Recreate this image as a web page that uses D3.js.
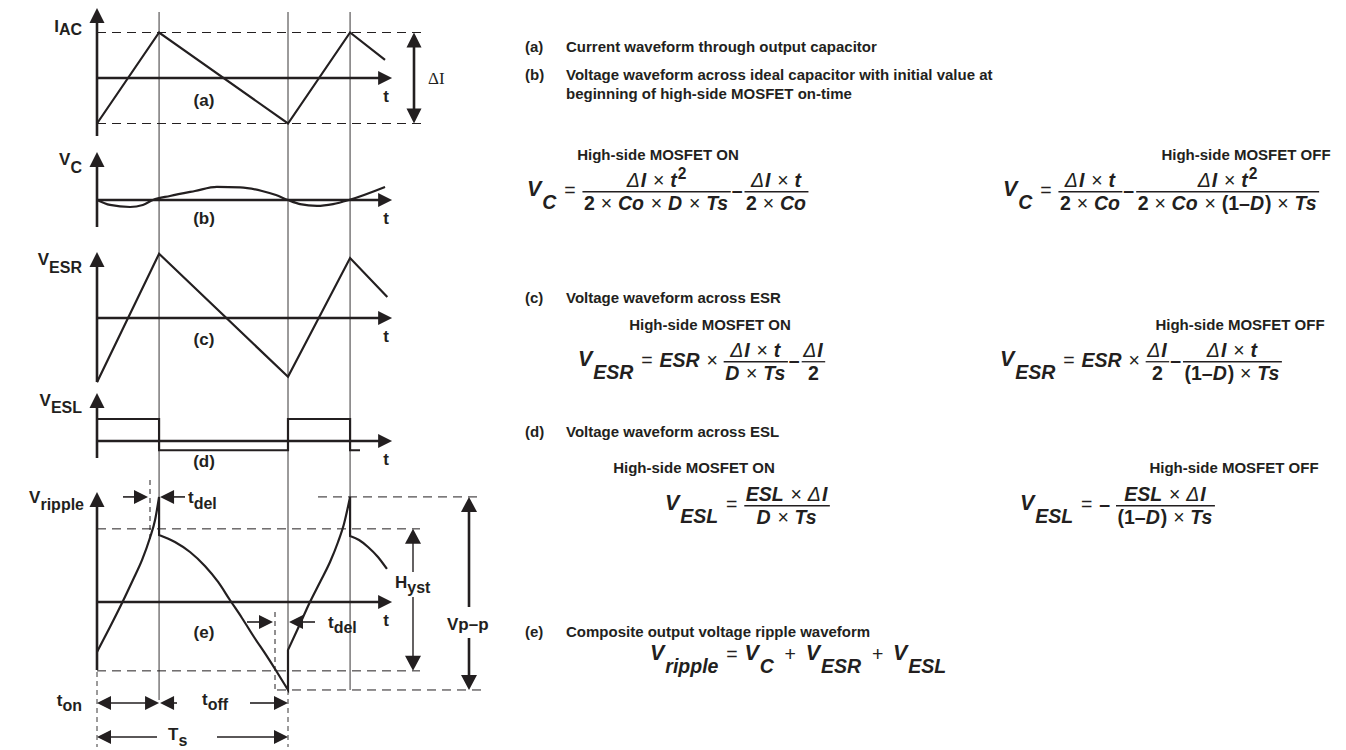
<!DOCTYPE html>
<html>
<head>
<meta charset="utf-8">
<script src="https://cdn.jsdelivr.net/npm/d3@7/dist/d3.min.js"></script>
<style>
  body { margin: 0; background: #fff; }
  svg { display: block; }
  text { font-family: "Liberation Sans", Arial, Helvetica, sans-serif; font-weight: bold; fill: #231f20; }
</style>
</head>
<body>
<svg id="chart" width="1346" height="750"></svg>
<script>
// ---------------- waveform data (time in units of the switching period Ts) ----------------
const switchTimes = [0, 0.325, 1, 1.325];          // on, off, on, off instants
const axisEndT = 1.545;                             // tip of every time axis

// (a) capacitor current, normalised to ΔI/2
const iacT = [0, 0.325, 1, 1.325, 1.508];
const iacV = [-1, 1, -1, 1, 0.40];

// (b) ideal capacitor voltage
const vcT = [0, 0.068, 0.173, 0.24, 0.293, 0.382, 0.513, 0.628, 0.749, 0.864, 0.937, 1.0, 1.063, 1.152, 1.236, 1.319, 1.508];
const vcV = [0, -0.11, -0.155, -0.11, 0, 0.09, 0.2, 0.29, 0.28, 0.2, 0.11, 0, -0.09, -0.13, -0.09, 0, 0.29];

// (c) ESR voltage
const esrT = [0, 0.325, 1, 1.325, 1.52];
const esrV = [-1.07, 1.07, -0.98, 1.0, 0.35];

// (d) ESL voltage (square wave)
const eslT = [0, 0.325, 0.325, 1, 1, 1.325, 1.325, 1.377];
const eslV = [1, 1, -0.42, -0.42, 1, 1, -0.42, -0.42];

// (e) composite ripple, one piece per switching interval
const rippleT = [
  [0, 0.068, 0.131, 0.188, 0.236, 0.277, 0.304, 0.325],
  [0.325, 0.408, 0.487, 0.565, 0.634, 0.696, 0.759, 0.822, 0.885, 0.942, 1.0],
  [1.0, 1.058, 1.115, 1.168, 1.22, 1.262, 1.293, 1.325],
  [1.325, 1.372, 1.419, 1.471, 1.518]
];
const rippleV = [
  [-0.704, -0.352, -0.014, 0.31, 0.592, 0.901, 1.155, 1.48],
  [0.944, 0.845, 0.704, 0.507, 0.282, 0.028, -0.225, -0.493, -0.746, -0.986, -1.239],
  [-0.676, -0.338, 0, 0.282, 0.563, 0.845, 1.099, 1.48],
  [0.93, 0.873, 0.775, 0.634, 0.465]
];
const hystLevels = [1.03, -0.97];      // hysteresis window
const ripplePeak = 1.48, rippleTrough = -1.239;
const tdelTimes = [0.2775, 0.932];     // comparator delay markers

// ---------------- text ----------------
const notes = [
  ['(a)', ['Current waveform through output capacitor']],
  ['(b)', ['Voltage waveform across ideal capacitor with initial value at', 'beginning of high-side MOSFET on-time']],
  ['(c)', ['Voltage waveform across ESR']],
  ['(d)', ['Voltage waveform across ESL']],
  ['(e)', ['Composite output voltage ripple waveform']]
];
const stateTitles = ['High-side MOSFET ON', 'High-side MOSFET OFF'];

// ---------------- setup ----------------
const ink = '#231f20';
const svg = d3.select('#chart');
const x = d3.scaleLinear().domain([0, 1]).range([97, 288]);
const x0 = x(0);

function panelScale(zero, unit) {
  return d3.scaleLinear().domain([-1, 1]).range([zero + unit, zero - unit]);
}
const panels = {
  a: { y: panelScale(78, 45.5), top: 8, bottom: 136 },
  b: { y: panelScale(200, 45), top: 152, bottom: 227 },
  c: { y: panelScale(318, 60), top: 252, bottom: 382 },
  d: { y: panelScale(441, 22), top: 393, bottom: 458 },
  e: { y: panelScale(602, 71), top: 492, bottom: 670 }
};

const gLines = svg.append('g');
const gMarks = svg.append('g');
const gText = svg.append('g');

function head(g, px, py, dir, len = 14, hw = 7) {
  const pts = {
    up: [[px, py], [px - hw, py + len], [px + hw, py + len]],
    down: [[px, py], [px - hw, py - len], [px + hw, py - len]],
    left: [[px, py], [px + len, py - hw], [px + len, py + hw]],
    right: [[px, py], [px - len, py - hw], [px - len, py + hw]]
  }[dir];
  g.append('polygon').attr('points', pts.map(p => p.join(',')).join(' ')).attr('fill', ink);
}
function seg(g, x1, y1, x2, y2, w = 1, dash = null) {
  const l = g.append('line').attr('x1', x1).attr('y1', y1).attr('x2', x2).attr('y2', y2)
    .attr('stroke', ink).attr('stroke-width', w);
  if (dash) l.attr('stroke-dasharray', dash);
  return l;
}
const DASH = '9,6';

// vertical reference lines at the switching instants
[[switchTimes[1], 12, 700], [switchTimes[2], 12, 690], [switchTimes[3], 12, 690]]
  .forEach(([t, y1, y2]) => seg(gLines, x(t), y1, x(t), y2, 0.9));
seg(gLines, x(switchTimes[0]), 672, x(switchTimes[0]), 747, 0.9, '5,4');
seg(gLines, x(switchTimes[2]), 690, x(switchTimes[2]), 747, 0.9, '5,4');

// axes
Object.values(panels).forEach(p => {
  const zero = p.y(0);
  seg(gMarks, x0, p.bottom, x0, p.top + 12, 2.6);
  head(gMarks, x0, p.top, 'up', 15, 7.5);
  seg(gMarks, x0, zero, x(axisEndT) - 12, zero, 2.6);
  head(gMarks, x(axisEndT), zero, 'right', 14, 7);
});

function wave(ts, vs, yS, curve) {
  const pts = ts.map((t, i) => [x(t), yS(vs[i])]);
  return d3.line().curve(curve || d3.curveLinear)(pts);
}
function drawPath(d, w = 2.2) {
  gMarks.append('path').attr('d', d).attr('fill', 'none').attr('stroke', ink)
    .attr('stroke-width', w).attr('stroke-linejoin', 'miter');
}

// (a)
const ya = panels.a.y;
seg(gLines, x0, ya(1), 423, ya(1), 1, DASH);
seg(gLines, x0, ya(-1), 423, ya(-1), 1, DASH);
drawPath(wave(iacT, iacV, ya));
seg(gMarks, 414, ya(1) + 12, 414, ya(-1) - 12, 2.6);
head(gMarks, 414, ya(1), 'up', 15, 7.5);
head(gMarks, 414, ya(-1), 'down', 15, 7.5);
gText.append('text').attr('x', 428).attr('y', 84).style('font-family', '"Liberation Serif", "Times New Roman", serif')
  .style('font-weight', 'normal').style('font-size', '17px').text('ΔI');

// (b)
drawPath(wave(vcT, vcV, panels.b.y, d3.curveMonotoneX));
// (c)
drawPath(wave(esrT, esrV, panels.c.y));
// (d)
drawPath(wave(eslT, eslV, panels.d.y));

// (e)
const ye = panels.e.y;
let rippleD = '';
rippleT.forEach((ts, i) => {
  const d = wave(ts, rippleV[i], ye, d3.curveMonotoneX);
  rippleD += i === 0 ? d : 'L' + d.slice(1);
});
drawPath(rippleD);
hystLevels.forEach(v => seg(gLines, x0, ye(v), 420, ye(v), 1, DASH));
seg(gLines, 318, ye(ripplePeak), 481, ye(ripplePeak), 1, DASH);
seg(gLines, 277, ye(rippleTrough), 481, ye(rippleTrough), 1, DASH);
seg(gLines, x(tdelTimes[0]), 480, x(tdelTimes[0]), 543, 1, '5,4');
seg(gLines, x(tdelTimes[1]), 612, x(tdelTimes[1]), ye(rippleTrough), 1, '5,4');

// hysteresis and peak-to-peak dimensions
const hx = 413;
seg(gMarks, hx, ye(hystLevels[0]) + 12, hx, 572, 1.4);
seg(gMarks, hx, 597, hx, ye(hystLevels[1]) - 12, 1.4);
head(gMarks, hx, ye(hystLevels[0]), 'up', 15, 8);
head(gMarks, hx, ye(hystLevels[1]), 'down', 15, 8);
const px = 469;
seg(gMarks, px, ye(ripplePeak) + 12, px, 607, 2.6);
seg(gMarks, px, 638, px, ye(rippleTrough) - 12, 2.6);
head(gMarks, px, ye(ripplePeak), 'up', 15, 8);
head(gMarks, px, ye(rippleTrough), 'down', 15, 8);

// delay arrows
const yT1 = ye(ripplePeak);
seg(gMarks, 123, yT1, x(tdelTimes[0]) - 12, yT1, 1.6);
head(gMarks, x(tdelTimes[0]) - 2, yT1, 'right', 14, 7);
seg(gMarks, 185, yT1, x(switchTimes[1]) + 12, yT1, 1.6);
head(gMarks, x(switchTimes[1]) + 1, yT1, 'left', 14, 7);
const yT2 = 622;
seg(gMarks, 247, yT2, x(tdelTimes[1]) - 12, yT2, 1.6);
head(gMarks, x(tdelTimes[1]) - 2, yT2, 'right', 14, 7);
seg(gMarks, 315, yT2, x(switchTimes[2]) + 12, yT2, 1.6);
head(gMarks, x(switchTimes[2]) + 1, yT2, 'left', 14, 7);

// on / off / period spans
const yOn = 703, yTs = 737;
seg(gMarks, x(0) + 12, yOn, x(switchTimes[1]) - 12, yOn, 1.6);
head(gMarks, x(0), yOn, 'left', 14, 7);
head(gMarks, x(switchTimes[1]), yOn, 'right', 14, 7);
head(gMarks, x(switchTimes[1]) + 1, yOn, 'left', 14, 7);
seg(gMarks, x(switchTimes[1]) + 12, yOn, 177, yOn, 1.6);
seg(gMarks, 250, yOn, x(1) - 12, yOn, 1.6);
head(gMarks, x(1), yOn, 'right', 14, 7);
head(gMarks, x(0), yTs, 'left', 14, 7);
seg(gMarks, x(0) + 12, yTs, 157, yTs, 1.6);
seg(gMarks, 217, yTs, x(1) - 12, yTs, 1.6);
head(gMarks, x(1), yTs, 'right', 14, 7);

// ---------------- labels on the waveform side ----------------
function subLabel(px, py, main, sub, dy, anchor = 'start', size = 17) {
  const t = gText.append('text').attr('x', px).attr('y', py).attr('text-anchor', anchor).style('font-size', size + 'px');
  t.append('tspan').text(main);
  t.append('tspan').attr('dy', dy).style('font-size', (size - 1) + 'px').text(sub);
}
subLabel(82, 32, 'I', 'AC', 3, 'end');
subLabel(82, 165, 'V', 'C', 8, 'end');
subLabel(82, 265, 'V', 'ESR', 8, 'end');
subLabel(82, 406, 'V', 'ESL', 7, 'end');
subLabel(84, 503, 'V', 'ripple', 7, 'end');
subLabel(82, 706, 't', 'on', 5, 'end');
subLabel(202, 705, 't', 'off', 5);
subLabel(168, 740, 'T', 's', 6);
subLabel(188, 503, 't', 'del', 6);
subLabel(328, 628, 't', 'del', 5);
subLabel(395, 588, 'H', 'yst', 5);
gText.append('text').attr('x', 447).attr('y', 630).style('font-size', '17px').text('Vp–p');

const tagRows = [['(a)', 106], ['(b)', 224], ['(c)', 345], ['(d)', 467], ['(e)', 638]];
tagRows.forEach(([s, yy]) => gText.append('text').attr('x', 204).attr('y', yy).attr('text-anchor', 'middle').style('font-size', '17px').text(s));
Object.values(panels).forEach(p => gText.append('text').attr('x', 386).attr('y', p.y(0) + 24)
  .attr('text-anchor', 'middle').style('font-size', '17px').text('t'));

// ---------------- description column ----------------
const BODY = 15;
const noteBase = [[52], [80, 99], [303], [437], [637]];
notes.forEach(([tag, lines], i) => {
  gText.append('text').attr('x', 525).attr('y', noteBase[i][0]).style('font-size', BODY + 'px').text(tag);
  lines.forEach((ln, j) => gText.append('text').attr('x', 566).attr('y', noteBase[i][j])
    .style('font-size', BODY + 'px').text(ln));
});
[[160, 658, 1246], [330, 710, 1240], [473, 694, 1234]].forEach(([yy, c1, c2]) => {
  gText.append('text').attr('x', c1).attr('y', yy).attr('text-anchor', 'middle').style('font-size', BODY + 'px').text(stateTitles[0]);
  gText.append('text').attr('x', c2).attr('y', yy).attr('text-anchor', 'middle').style('font-size', BODY + 'px').text(stateTitles[1]);
});

// ---------------- equations ----------------
const F = 19.5;
function typeset(g, items, x1, base) {
  let cx = x1;
  for (const it of items) {
    if (it.gap != null) { cx += it.gap * F; continue; }
    if (it.frac) {
      const ax = base - 0.27 * F;
      const gn = g.append('g'), gd = g.append('g');
      const wn = typeset(gn, it.frac[0], 0, ax - 0.22 * F);
      const wd = typeset(gd, it.frac[1], 0, ax + 0.96 * F);
      const w = Math.max(wn, wd) + 3;
      gn.attr('transform', `translate(${cx + (w - wn) / 2},0)`);
      gd.attr('transform', `translate(${cx + (w - wd) / 2},0)`);
      g.append('line').attr('x1', cx).attr('x2', cx + w).attr('y1', ax).attr('y2', ax)
        .attr('stroke', ink).attr('stroke-width', 1.3);
      cx += w;
      continue;
    }
    const t = g.append('text').attr('x', cx).attr('y', base + (it.dy || 0) * F)
      .style('font-size', (it.s || 1) * F + 'px').text(it.t);
    if (it.it) t.style('font-style', 'italic');
    if (it.thin) t.style('font-weight', 'normal');
    cx += t.node().getComputedTextLength() + (it.it ? 1 : 0);
  }
  return cx - x1;
}
const v = s => ({ t: s, it: true });
const n = s => ({ t: s });
const op = s => ({ t: s, thin: true });
const gap = k => ({ gap: k });
const sup = s => ({ t: s, dy: -0.45, s: 0.8 });
const frac = (a, b) => ({ frac: [a, b] });
const times = [gap(0.3), op('×'), gap(0.3)];
const plus = [gap(0.5), op('+'), gap(0.5)];
const dI = [{ t: 'Δ', it: true, thin: true }, v('I')];
const Vsub = s => [{ t: 'V', it: true, s: 1.1, dy: -0.05 }, { t: s, it: true, dy: 0.62 }];
const eq = [gap(0.35), op('='), gap(0.35)];
const minus = [gap(0.05), n('–'), gap(0.1)];
const oneMinusD = [n('(1–'), v('D'), n(')')];

const eqVcOn = [...Vsub('C'), ...eq,
  frac([...dI, ...times, v('t'), sup('2')], [n('2'), ...times, v('Co'), ...times, v('D'), ...times, v('Ts')]),
  ...minus, frac([...dI, ...times, v('t')], [n('2'), ...times, v('Co')])];
const eqVcOff = [...Vsub('C'), ...eq,
  frac([...dI, ...times, v('t')], [n('2'), ...times, v('Co')]), ...minus,
  frac([...dI, ...times, v('t'), sup('2')], [n('2'), ...times, v('Co'), ...times, ...oneMinusD, ...times, v('Ts')])];
const eqEsrOn = [...Vsub('ESR'), ...eq, v('ESR'), ...times,
  frac([...dI, ...times, v('t')], [v('D'), ...times, v('Ts')]), ...minus, frac(dI, [n('2')])];
const eqEsrOff = [...Vsub('ESR'), ...eq, v('ESR'), ...times, frac(dI, [n('2')]), ...minus,
  frac([...dI, ...times, v('t')], [...oneMinusD, ...times, v('Ts')])];
const eqEslOn = [...Vsub('ESL'), ...eq, frac([v('ESL'), ...times, ...dI], [v('D'), ...times, v('Ts')])];
const eqEslOff = [...Vsub('ESL'), ...eq, n('–'), gap(0.3),
  frac([v('ESL'), ...times, ...dI], [...oneMinusD, ...times, v('Ts')])];
const eqRipple = [...Vsub('ripple'), ...eq, ...Vsub('C'), ...plus,
  ...Vsub('ESR'), ...plus, ...Vsub('ESL')];

const gEq = svg.append('g');
[[eqVcOn, 527, 197], [eqVcOff, 1003, 197], [eqEsrOn, 578, 367], [eqEsrOff, 1000, 367],
 [eqEslOn, 665, 511], [eqEslOff, 1020, 511], [eqRipple, 650, 661]]
  .forEach(([items, ex, eb]) => typeset(gEq.append('g'), items, ex, eb));
</script>
</body>
</html>
